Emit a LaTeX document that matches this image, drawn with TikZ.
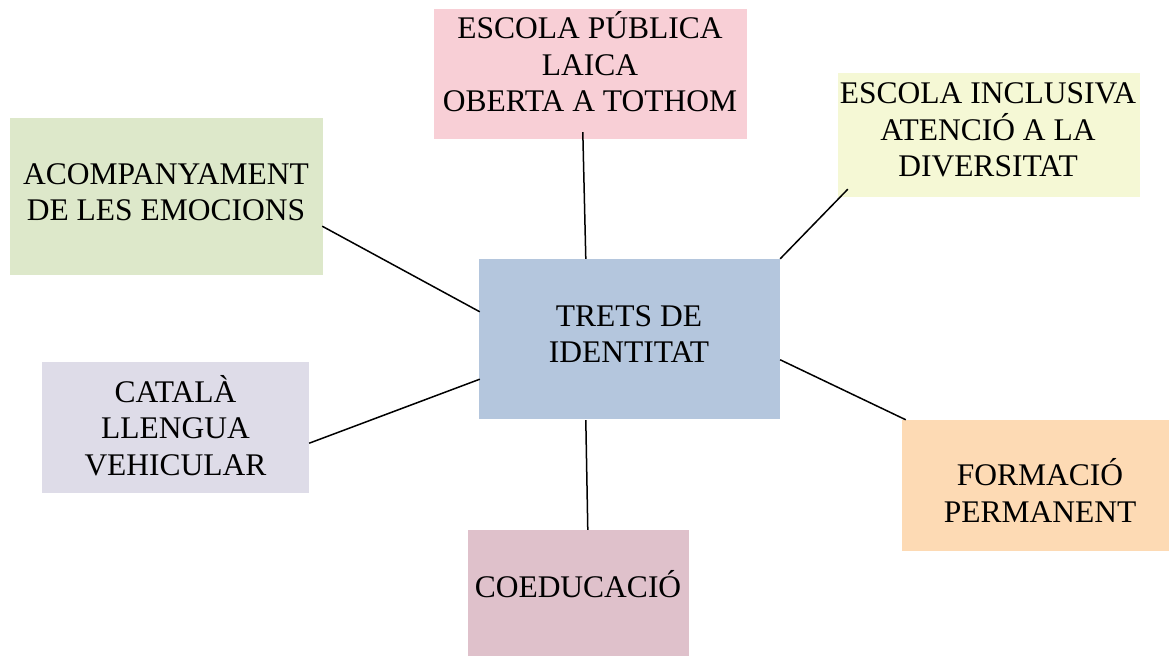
\documentclass[tikz,border=0pt]{standalone}
\usepackage{fontspec}
\setmainfont{Liberation Serif}
\usetikzlibrary{calc}
\definecolor{cpink}{HTML}{F8CFD6}
\definecolor{cyellow}{HTML}{F5F8D5}
\definecolor{cgreen}{HTML}{DDE8CA}
\definecolor{clav}{HTML}{DEDCE8}
\definecolor{cblue}{HTML}{B4C6DD}
\definecolor{cmauve}{HTML}{DFC1CB}
\definecolor{cpeach}{HTML}{FDDAB4}
\tikzset{
  box/.style={draw=none, rectangle, inner sep=0pt},
  txt/.style={inner sep=0pt, align=center, anchor=base, font=\fontsize{31.5bp}{36.5bp}\selectfont},
  conn/.style={draw=black, line width=1.5bp}
}
\begin{document}
\begin{tikzpicture}[x=1bp, y=-1bp]
\useasboundingbox (0,0) rectangle (1169,656);
\node[box, fill=cpink, minimum width=313bp, minimum height=130bp] (pub) at (590.5,74) {};
\node[box, fill=cyellow, minimum width=302bp, minimum height=124bp] (inc) at (989,135) {};
\node[box, fill=cgreen, minimum width=313bp, minimum height=157bp] (aco) at (166.5,196.5) {};
\node[box, fill=clav, minimum width=267bp, minimum height=131bp] (cat) at (175.5,427.5) {};
\node[box, fill=cblue, minimum width=301bp, minimum height=160bp] (ctr) at (629.5,339) {};
\node[box, fill=cmauve, minimum width=221bp, minimum height=126bp] (coe) at (578.5,593) {};
\node[box, fill=cpeach, minimum width=276bp, minimum height=131bp] (for) at (1040,485.5) {};

\node[txt] (pubt) at (590,112) {ESCOLA PÚBLICA\\LAICA\\OBERTA A TOTHOM};
\node[txt] (inct) at (988,176.7) {ESCOLA INCLUSIVA\\ATENCIÓ A LA\\DIVERSITAT};
\node[txt] (acot) at (166,221) {ACOMPANYAMENT\\DE LES EMOCIONS};
\node[txt] (catt) at (175.5,475) {CATALÀ\\LLENGUA\\VEHICULAR};
\node[txt] (ctrt) at (629,362.7) {TRETS DE\\IDENTITAT};
\node[txt] (coet) at (578,597) {COEDUCACIÓ};
\node[txt] (fort) at (1040,522) {FORMACIÓ\\PERMANENT};

\draw[conn] ($(pub.south west)+(149,-7)$) -- ($(ctr.north west)+(107,0)$);
\draw[conn] ($(inc.south west)+(10,-8)$) -- (ctr.north east);
\draw[conn] ($(aco.south east)+(-1,-49)$) -- ($(ctr.north west)+(1,53)$);
\draw[conn] ($(cat.south east)+(0,-50)$) -- ($(ctr.south west)+(1,-40)$);
\draw[conn] ($(coe.north west)+(120,0)$) -- ($(ctr.south west)+(107,1)$);
\draw[conn] ($(for.north west)+(4,0)$) -- ($(ctr.north east)+(0,101)$);
\end{tikzpicture}
\end{document}
